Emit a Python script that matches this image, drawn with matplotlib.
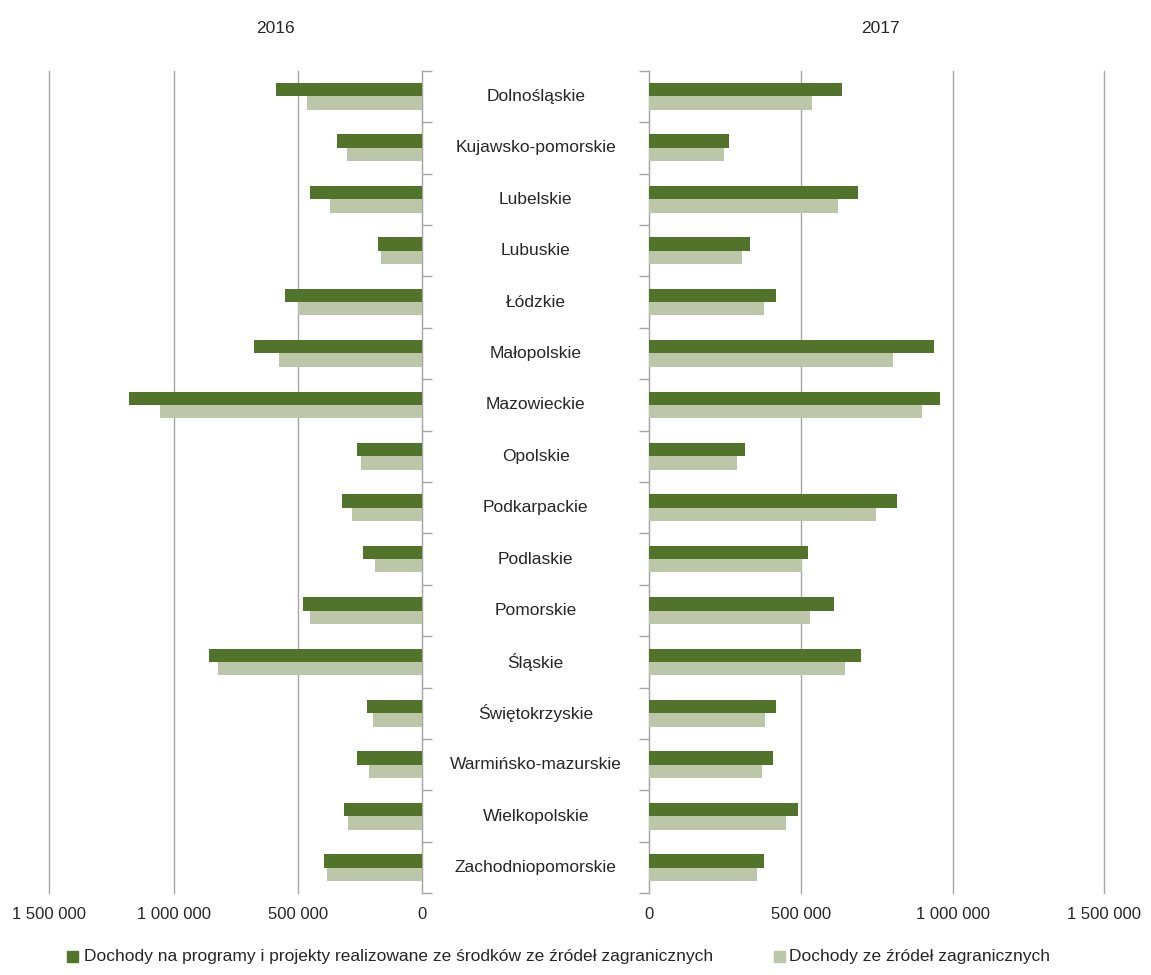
import matplotlib
matplotlib.use('Agg')
import matplotlib.pyplot as plt
import numpy as np

plt.rcParams['font.family'] = ['Liberation Sans', 'DejaVu Sans']

regiony = ['Dolnośląskie', 'Kujawsko-pomorskie', 'Lubelskie', 'Lubuskie', 'Łódzkie',
           'Małopolskie', 'Mazowieckie', 'Opolskie', 'Podkarpackie', 'Podlaskie',
           'Pomorskie', 'Śląskie', 'Świętokrzyskie', 'Warmińsko-mazurskie',
           'Wielkopolskie', 'Zachodniopomorskie']

# 2016
programy_2016 = [590000, 342000, 452000, 179000, 552000, 676000, 1181000, 263000,
                 324000, 240000, 479000, 858000, 221000, 261000, 316000, 394000]
zagraniczne_2016 = [464000, 304000, 370000, 166000, 499000, 576000, 1055000, 247000,
                    284000, 191000, 453000, 823000, 197000, 214000, 300000, 382000]
# 2017
programy_2017 = [635000, 264000, 687000, 333000, 417000, 940000, 958000, 317000,
                 818000, 525000, 608000, 698000, 417000, 409000, 492000, 378000]
zagraniczne_2017 = [537000, 248000, 623000, 307000, 379000, 804000, 898000, 290000,
                    747000, 504000, 530000, 645000, 382000, 372000, 450000, 356000]

ticki = [0, 500000, 1000000, 1500000]
tick_labels = ['0', '500 000', '1 000 000', '1 500 000']

legenda = ['Dochody na programy i projekty realizowane ze środków ze źródeł zagranicznych',
           'Dochody ze źródeł zagranicznych']

ciemny = '#52742a'
jasny = '#bbc7a8'
tekst = '#262626'
siatka = '#a6a6a6'

fig = plt.figure(figsize=(11.51, 9.75), dpi=100)
ax_l = fig.add_axes([0.0428, 0.0838, 0.3241, 0.8437])
ax_r = fig.add_axes([0.5639, 0.0838, 0.3955, 0.8437])

y = np.arange(len(regiony))
h = 0.26

for ax, prog, zagr in [(ax_l, programy_2016, zagraniczne_2016),
                       (ax_r, programy_2017, zagraniczne_2017)]:
    ax.barh(y - h / 2, prog, height=h, color=ciemny, zorder=3)
    ax.barh(y + h / 2, zagr, height=h, color=jasny, zorder=3)
    ax.set_xlim(0, 1500000)
    ax.set_ylim(len(regiony) - 0.5, -0.5)
    ax.set_xticks(ticki)
    ax.set_xticklabels(tick_labels, color=tekst, fontsize=12)
    ax.tick_params(axis='x', length=0, pad=10)
    ax.grid(axis='x', color=siatka, linewidth=1, zorder=0)
    for line in ax.get_xgridlines():
        line.set_clip_on(False)
    for s in ['top', 'bottom', 'left', 'right']:
        ax.spines[s].set_visible(False)
    ax.set_yticks(np.arange(len(regiony) + 1) - 0.5)
    ax.set_yticklabels([])
    ax.tick_params(axis='y', length=7, color=siatka, width=1)

ax_l.invert_xaxis()
ax_l.spines['right'].set_visible(True)
ax_l.spines['right'].set_color(siatka)
ax_l.yaxis.tick_right()
ax_r.spines['left'].set_visible(True)
ax_r.spines['left'].set_color(siatka)

# nazwy województw na środku
for i, r in enumerate(regiony):
    yy = ax_l.transData.transform((0, i))[1]
    xf, yf = fig.transFigure.inverted().transform((0, yy))
    fig.text(0.4655, yf, r, ha='center', va='center', fontsize=12.5, color=tekst)

fig.text(0.239, 0.971, '2016', ha='center', va='center', fontsize=12.5, color=tekst)
fig.text(0.7645, 0.971, '2017', ha='center', va='center', fontsize=12.5, color=tekst)

# legenda
fig.patches.append(plt.Rectangle((0.0585, 0.0135), 0.0095, 0.0115, color=ciemny,
                                 transform=fig.transFigure, figure=fig))
fig.text(0.073, 0.019, legenda[0], ha='left', va='center', fontsize=12.5, color=tekst)
fig.patches.append(plt.Rectangle((0.6725, 0.0135), 0.0095, 0.0115, color=jasny,
                                 transform=fig.transFigure, figure=fig))
fig.text(0.6855, 0.019, legenda[1], ha='left', va='center', fontsize=12.5, color=tekst)

fig.savefig('out.png', dpi=100, facecolor='white')
